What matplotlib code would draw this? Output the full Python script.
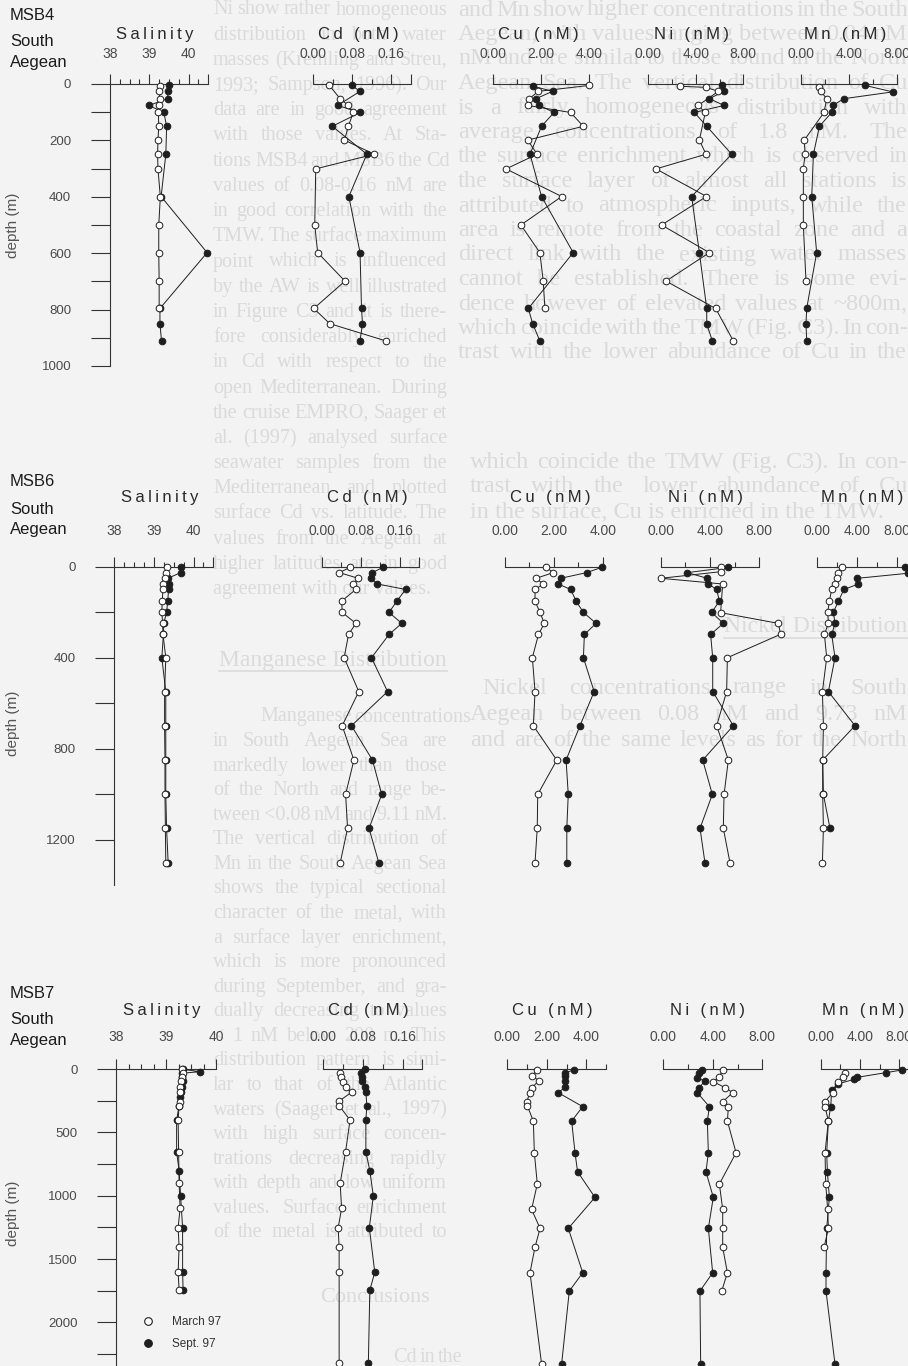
import matplotlib
matplotlib.use("Agg")
import numpy as np
import matplotlib.pyplot as plt
from matplotlib.lines import Line2D

plt.rcParams["font.family"] = ["Liberation Sans", "DejaVu Sans"]

W, H = 908, 1366
BG = "#f3f3f3"
PAGE = "#dadada"
INK = "#1e1e1e"
AX = "#333333"

# ---------------- data (depth in m) ----------------
# MSB4
msb4_sal_mar_z = [6, 26, 52, 76, 101, 150, 199, 249, 301, 400, 500, 598, 699, 796]
msb4_sal_mar = [39.27, 39.25, 39.27, 39.25, 39.23, 39.24, 39.22, 39.21, 39.22, 39.28, 39.24, 39.24, 39.25, 39.25]
msb4_sal_sep_z = [4, 26, 52, 76, 101, 150, 249, 399, 598, 796, 850, 911]
msb4_sal_sep = [39.50, 39.47, 39.47, 38.99, 39.37, 39.44, 39.42, 39.30, 40.47, 39.27, 39.27, 39.31]
msb4_cd_mar_z = [5, 52, 76, 101, 150, 199, 249, 301, 500, 598, 699, 796, 850, 911]
msb4_cd_mar = [0.033, 0.055, 0.072, 0.082, 0.072, 0.064, 0.125, 0.005, 0.003, 0.009, 0.065, 0.001, 0.034, 0.149]
msb4_cd_sep_z = [5, 26, 76, 101, 150, 249, 399, 598, 796, 850, 911]
msb4_cd_sep = [0.079, 0.096, 0.050, 0.096, 0.039, 0.110, 0.073, 0.096, 0.099, 0.101, 0.096]
msb4_cu_mar_z = [5, 26, 52, 76, 101, 150, 199, 249, 301, 399, 500, 598, 699, 796]
msb4_cu_mar = [4.00, 1.88, 1.50, 1.43, 3.22, 3.75, 1.43, 1.83, 0.53, 2.85, 1.15, 1.94, 2.08, 2.15]
msb4_cu_sep_z = [8, 26, 52, 76, 101, 150, 249, 399, 598, 796, 850, 911]
msb4_cu_sep = [1.67, 2.47, 1.78, 1.92, 2.53, 2.01, 1.53, 2.01, 3.33, 1.46, 1.64, 1.94]
msb4_ni_mar_z = [8, 12, 26, 76, 101, 199, 249, 301, 399, 500, 598, 699, 796, 911]
msb4_ni_mar = [2.67, 4.86, 5.90, 4.20, 4.80, 4.30, 4.86, 0.65, 4.90, 1.12, 5.14, 1.49, 5.67, 7.16]
msb4_ni_sep_z = [5, 26, 52, 76, 101, 150, 249, 399, 598, 796, 850, 911]
msb4_ni_sep = [6.18, 6.38, 5.14, 6.38, 3.88, 4.92, 7.02, 3.65, 4.30, 4.92, 4.92, 5.39]
msb4_mn_mar_z = [12, 26, 52, 101, 199, 249, 301, 399, 500, 699]
msb4_mn_mar = [1.56, 1.67, 2.17, 1.94, 0.30, 0.36, 0.22, 0.22, 0.22, 0.44]
msb4_mn_sep_z = [5, 28, 52, 76, 101, 150, 249, 399, 598, 796, 850, 911]
msb4_mn_sep = [5.36, 7.67, 3.61, 2.67, 2.58, 1.56, 1.06, 0.92, 1.33, 0.50, 0.44, 0.50]

# MSB6
msb6_z = [3, 26, 51, 76, 100, 151, 201, 249, 298, 400, 549, 699, 850, 1001, 1150, 1301]
msb6_sal_mar = [39.32, 39.30, 39.27, 39.24, 39.23, 39.21, 39.20, 39.22, 39.23, 39.30, 39.27, 39.27, 39.28, 39.28, 39.29, 39.30]
msb6_sal_sep = [39.68, 39.68, 39.35, 39.39, 39.37, 39.35, 39.32, 39.25, 39.24, 39.20, 39.30, 39.30, 39.30, 39.30, 39.32, 39.36]
msb6_cd_mar = [0.058, 0.036, 0.075, 0.065, 0.070, 0.041, 0.042, 0.070, 0.055, 0.046, 0.076, 0.042, 0.066, 0.049, 0.053, 0.038]
msb6_cd_sep = [0.125, 0.104, 0.100, 0.114, 0.172, 0.154, 0.138, 0.164, 0.138, 0.102, 0.135, 0.061, 0.104, 0.123, 0.097, 0.117]
msb6_cu_mar = [1.68, 1.98, 1.27, 1.57, 1.23, 1.23, 1.43, 1.61, 1.37, 1.12, 1.23, 1.16, 2.12, 1.34, 1.32, 1.23]
msb6_cu_sep = [3.96, 3.34, 2.28, 2.18, 2.69, 2.91, 3.21, 3.73, 3.25, 3.21, 3.65, 3.07, 2.50, 2.59, 2.53, 2.53]
msb6_ni_mar_z = [3, 22, 51, 76, 202, 249, 297, 400, 549, 699, 850, 1001, 1150, 1301]
msb6_ni_mar = [4.86, 4.86, 0.02, 5.03, 4.86, 9.54, 9.73, 5.41, 5.35, 4.54, 5.49, 5.14, 5.08, 5.62]
msb6_ni_sep = [5.49, 2.16, 3.78, 3.86, 4.54, 4.76, 4.14, 5.08, 4.05, 4.22, 4.22, 5.89, 3.41, 4.19, 3.19, 3.59]
msb6_mn_mar = [2.50, 2.10, 2.00, 1.83, 1.50, 1.27, 1.10, 1.17, 0.77, 1.00, 0.57, 0.67, 0.60, 0.60, 0.67, 0.57]
msb6_mn_sep_z = [3, 29, 51, 76, 100, 151, 201, 249, 298, 400, 549, 699, 850, 1001, 1150]
msb6_mn_sep = [8.83, 9.10, 4.07, 4.17, 2.73, 2.17, 1.67, 1.83, 1.50, 1.83, 1.17, 3.83, 0.60, 0.67, 1.33]

# MSB7
msb7_sal_mar_z = [3, 34, 66, 92, 139, 179, 258, 289, 403, 653, 903, 1100, 1253, 1403, 1605, 1745]
msb7_sal_mar = [39.31, 39.33, 39.31, 39.29, 39.28, 39.27, 39.28, 39.26, 39.24, 39.25, 39.26, 39.28, 39.24, 39.26, 39.24, 39.26]
msb7_sal_sep_z = [3, 21, 34, 66, 92, 139, 179, 218, 289, 403, 653, 803, 1003, 1253, 1605, 1745]
msb7_sal_sep = [39.34, 39.68, 39.31, 39.31, 39.33, 39.31, 39.29, 39.28, 39.26, 39.21, 39.21, 39.26, 39.29, 39.33, 39.33, 39.34]
msb7_cd_mar_z = [34, 66, 100, 145, 184, 253, 289, 403, 653, 903, 1100, 1253, 1403, 1605, 2324]
msb7_cd_mar = [0.034, 0.035, 0.040, 0.045, 0.057, 0.032, 0.032, 0.054, 0.045, 0.034, 0.037, 0.030, 0.032, 0.032, 0.032]
msb7_cd_sep_z = [3, 34, 66, 92, 145, 184, 289, 403, 653, 803, 1003, 1253, 1605, 1745, 2324]
msb7_cd_sep = [0.084, 0.077, 0.079, 0.079, 0.084, 0.086, 0.088, 0.086, 0.086, 0.094, 0.101, 0.093, 0.104, 0.094, 0.091]
msb7_cu_mar_z = [8, 55, 92, 147, 187, 258, 289, 411, 661, 908, 1108, 1258, 1408, 1608, 2332]
msb7_cu_mar = [1.52, 1.23, 1.62, 1.23, 1.15, 0.98, 1.01, 1.32, 1.37, 1.52, 1.23, 1.66, 1.40, 1.15, 1.74]
msb7_cu_sep_z = [8, 29, 55, 92, 145, 187, 297, 411, 661, 811, 1013, 1258, 1608, 1753, 2332]
msb7_cu_sep = [3.38, 2.92, 2.92, 2.92, 2.92, 2.58, 3.82, 3.26, 3.43, 3.56, 4.44, 3.09, 3.82, 3.14, 2.75]
msb7_ni_mar_z = [8, 61, 100, 147, 187, 258, 297, 411, 661, 908, 1108, 1258, 1408, 1608, 1753]
msb7_ni_mar = [4.80, 4.53, 4.04, 4.99, 5.61, 4.80, 5.26, 5.18, 5.88, 4.53, 4.80, 4.80, 4.80, 5.18, 4.72]
msb7_ni_sep_z = [8, 34, 74, 92, 147, 187, 297, 411, 661, 811, 1013, 1258, 1608, 1753, 2332]
msb7_ni_sep = [3.10, 2.91, 2.70, 3.37, 2.91, 2.75, 3.72, 3.56, 3.64, 3.45, 4.04, 3.64, 3.99, 2.96, 3.02]
msb7_mn_mar_z = [29, 66, 100, 187, 258, 297, 411, 661, 908, 1108, 1258, 1408]
msb7_mn_mar = [2.47, 2.24, 1.80, 1.22, 0.44, 0.44, 0.78, 0.44, 0.51, 0.71, 0.78, 0.34]
msb7_mn_sep_z = [8, 29, 66, 82, 118, 166, 297, 411, 661, 811, 1013, 1258, 1608, 1753, 2332]
msb7_mn_sep = [8.24, 6.64, 3.66, 3.39, 1.73, 1.12, 1.02, 0.78, 0.61, 0.68, 0.88, 0.61, 0.54, 0.54, 1.46]

stations = ["MSB4", "MSB6", "MSB7"]
titles = ["Salinity", "Cd (nM)", "Cu (nM)", "Ni (nM)", "Mn (nM)"]
seasons = ["March 97", "Sept. 97"]

# background page text (scanned report behind the plots)
left_col = [
    "Ni show rather homogeneous", "distribution in both water", "masses (Kremling and Streu,",
    "1993; Sampson, 1996). Our", "data are in good agreement", "with those values. At Sta-",
    "tions MSB4 and MSB6 the Cd", "values of 0.08-0.16 nM are", "in good correlation with the",
    "TMW. The surface maximum", "point which is influenced", "by the AW is well illustrated",
    "in Figure C3 and it is there-", "fore considerably enriched", "in Cd with respect to the",
    "open Mediterranean. During", "the cruise EMPRO, Saager et", "al. (1997) analysed surface",
    "seawater samples from the", "Mediterranean and plotted", "surface Cd vs. latitude. The",
    "values from the Aegean at", "higher latitudes are in good", "agreement with our values.",
]
left_col2 = [
    "Manganese concentrations", "in South Aegean Sea are", "markedly lower than those",
    "of the North and range be-", "tween <0.08 nM and 9.11 nM.", "The vertical distribution of",
    "Mn in the South Aegean Sea", "shows the typical sectional", "character of the metal, with",
    "a surface layer enrichment,", "which is more pronounced", "during September, and gra-",
    "dually decreasing to values", "< 1 nM below 200 m. This", "distribution pattern is simi-",
    "lar to that of the Atlantic", "waters (Saager et al., 1997)", "with high surface concen-",
    "trations decreasing rapidly", "with depth and low uniform", "values. Surface enrichment",
    "of the metal is attributed to",
]
right_col = [
    "and Mn show higher concentrations in the South", "Aegean, with values ranging between 0.04 nM",
    "nM and are similar to those found in the North", "Aegean Sea. The vertical distribution of Cu",
    "is a fairly homogeneous distribution with", "average concentrations of 1.8 nM. The",
    "the surface enrichment which is observed in", "the surface layer of almost all stations is",
    "attributed to atmospheric inputs, while the", "area is remote from the coastal zone and a",
    "direct link with the existing water masses", "cannot be established. There is some evi-",
    "dence however of elevated values at ~800m,", "which coincide with the TMW (Fig. C3). In con-",
    "trast with the lower abundance of Cu in the",
]
right_col2 = [
    "which coincide the TMW (Fig. C3). In con-", "trast with the lower abundance of Cu",
    "in the surface, Cu is enriched in the TMW.",
]
right_col3 = [
    "Nickel concentrations range in South", "Aegean between 0.08 nM and 9.73 nM",
    "and are of the same levels as for the North",
]

# ---------------- figure ----------------
fig = plt.figure(figsize=(W / 100, H / 100), dpi=100)
fig.patch.set_facecolor(BG)
renderer = fig.canvas.get_renderer()


def fx(x):
    return x / W


def fy(y):
    return 1 - y / H


def page_line(x0, x1, y, s, size, justify=True):
    kw = dict(family="Liberation Serif", fontsize=size, color=PAGE, zorder=-5, va="center", ha="left")
    words = s.split()
    if not justify or len(words) < 2:
        fig.text(fx(x0), fy(y), s, **kw)
        return
    arts = [fig.text(0, 0, w, **kw) for w in words]
    widths = [a.get_window_extent(renderer).width for a in arts]
    gap = max((x1 - x0 - sum(widths)) / (len(words) - 1), 3)
    x = x0
    for a, w in zip(arts, widths):
        a.set_position((fx(x), fy(y)))
        x += w + gap


def heading(x_right, y, s):
    t = fig.text(fx(x_right), fy(y), s, family="Liberation Serif", fontsize=17,
                 color=PAGE, zorder=-5, va="center", ha="right")
    w = t.get_window_extent(renderer).width
    fig.add_artist(Line2D([fx(x_right - w), fx(x_right)], [fy(y + 11)] * 2,
                          color=PAGE, lw=1.2, zorder=-5))


for k, s in enumerate(left_col):
    page_line(213, 447, 10 + 25.2 * k, s, 14.5, justify=k < len(left_col) - 1)
heading(447, 660, "Manganese Distribution")
for k, s in enumerate(left_col2):
    page_line(260 if k == 0 else 213, 447, 717 + 24.57 * k, s, 14.5)
fig.text(fx(320), fy(1297), "Conclusions", family="Liberation Serif", fontsize=16,
         color=PAGE, zorder=-5, va="center")
page_line(393, 447, 1357, "Cd in the", 14.5)

for k, s in enumerate(right_col):
    page_line(458, 907, 10 + 24.5 * k, s, 17.5)
for k, s in enumerate(right_col2):
    page_line(470, 907, 462 + 25 * k, s, 17.5, justify=k < 2)
heading(907, 627, "Nickel Distribution")
for k, s in enumerate(right_col3):
    page_line(482 if k == 0 else 470, 907, 688 + 26 * k, s, 17.5)

# ---------------- layout of the three station rows ----------------
rows = [
    dict(y0=84.0, ppm=0.282, dmax=1000, pad=9.4, title_y=35,
         name_y=[15, 41, 63], dlabel_y=225,
         dmaj=[0, 200, 400, 600, 800, 1000], dmin=[100, 300, 500, 700, 900],
         xs=[(110, 208.3), (313.3, 410.7), (493.3, 589.3), (648.3, 743.3), (800.7, 896.7)],
         tx=[155, 358, 538, 692, 845]),
    dict(y0=566.7, ppm=0.2275, dmax=1400, pad=13.7, title_y=498,
         name_y=[482, 509, 530], dlabel_y=723,
         dmaj=[0, 400, 800, 1200], dmin=[200, 600, 1000],
         xs=[(114.3, 213.3), (321.7, 419.3), (505, 602.7), (660.7, 759.3), (816.7, 976.7)],
         tx=[160, 367, 550, 705, 862]),
    dict(y0=1069.0, ppm=0.1267, dmax=2400, pad=10.8, title_y=1010,
         name_y=[994, 1019, 1041], dlabel_y=1213,
         dmaj=[0, 500, 1000, 1500, 2000], dmin=[250, 750, 1250, 1750, 2250],
         xs=[(116.3, 216), (323.3, 422.3), (507.3, 606), (663.3, 762.3), (820.7, 978)],
         tx=[162, 368, 552, 708, 863]),
]

# x axis settings per row and panel: (lo, hi, major, labels, minor)
sal_a = (38, 40.5, [38, 39, 40, 40.5], ["38", "39", "40", ""], [38.25, 38.5, 38.75, 39.25, 39.5, 39.75, 40.25])
sal_b = (38, 40, [38, 39, 40], ["38", "39", "40"], [38.25, 38.5, 38.75, 39.25, 39.5, 39.75])
cd_x = (0, 0.2, [0, 0.08, 0.16, 0.2], ["0.00", "0.08", "0.16", ""], [0.04, 0.12])
cu_a = (0, 4, [0, 2, 4], ["0.00", "2.00", "4.00"], [1, 3])
cu_b = (0, 5, [0, 2, 4], ["0.00", "2.00", "4.00"], [1, 3, 5])
ni_x = (0, 8, [0, 4, 8], ["0.00", "4.00", "8.00"], [2, 6])
mn_a = (0, 8, [0, 4, 8], ["0.00", "4.00", "8.00"], [2, 6])
mn_b = (0, 16, [0, 4, 8, 12, 16], ["0.00", "4.00", "8.00", "", ""], [2, 6, 10, 14])
xaxes = [[sal_a, cd_x, cu_a, ni_x, mn_a],
         [sal_a, cd_x, cu_a, ni_x, mn_b],
         [sal_b, cd_x, cu_b, ni_x, mn_b]]

series = [
    [((msb4_sal_mar_z, msb4_sal_mar), (msb4_sal_sep_z, msb4_sal_sep)),
     ((msb4_cd_mar_z, msb4_cd_mar), (msb4_cd_sep_z, msb4_cd_sep)),
     ((msb4_cu_mar_z, msb4_cu_mar), (msb4_cu_sep_z, msb4_cu_sep)),
     ((msb4_ni_mar_z, msb4_ni_mar), (msb4_ni_sep_z, msb4_ni_sep)),
     ((msb4_mn_mar_z, msb4_mn_mar), (msb4_mn_sep_z, msb4_mn_sep))],
    [((msb6_z, msb6_sal_mar), (msb6_z, msb6_sal_sep)),
     ((msb6_z, msb6_cd_mar), (msb6_z, msb6_cd_sep)),
     ((msb6_z, msb6_cu_mar), (msb6_z, msb6_cu_sep)),
     ((msb6_ni_mar_z, msb6_ni_mar), (msb6_z, msb6_ni_sep)),
     ((msb6_z, msb6_mn_mar), (msb6_mn_sep_z, msb6_mn_sep))],
    [((msb7_sal_mar_z, msb7_sal_mar), (msb7_sal_sep_z, msb7_sal_sep)),
     ((msb7_cd_mar_z, msb7_cd_mar), (msb7_cd_sep_z, msb7_cd_sep)),
     ((msb7_cu_mar_z, msb7_cu_mar), (msb7_cu_sep_z, msb7_cu_sep)),
     ((msb7_ni_mar_z, msb7_ni_mar), (msb7_ni_sep_z, msb7_ni_sep)),
     ((msb7_mn_mar_z, msb7_mn_mar), (msb7_mn_sep_z, msb7_mn_sep))],
]


def spaced(s):
    return "\u2009".join(s)


for r, row in enumerate(rows):
    bottom = row["y0"] + row["dmax"] * row["ppm"]
    for p, (x0, x1) in enumerate(row["xs"]):
        lo, hi, major, labels, minor = xaxes[r][p]
        ax = fig.add_axes([fx(x0), fy(bottom), (x1 - x0) / W, (bottom - row["y0"]) / H])
        ax.set_xlim(lo, hi)
        ax.set_ylim(row["dmax"], 0)
        ax.patch.set_visible(False)
        for s in ("right", "bottom"):
            ax.spines[s].set_visible(False)
        ax.spines["top"].set_color(AX)
        ax.spines["top"].set_linewidth(0.8)
        ax.xaxis.tick_top()
        ax.set_xticks(major)
        ax.set_xticklabels(labels)
        ax.set_xticks(minor, minor=True)
        ax.tick_params(axis="x", which="major", direction="out", length=7.2, width=0.8,
                       color=AX, labelsize=10, labelcolor="#4a4a4a", pad=row["pad"])
        ax.tick_params(axis="x", which="minor", direction="out", length=3.6, width=0.8, color=AX)
        if p == 0:
            ax.spines["left"].set_color(AX)
            ax.spines["left"].set_linewidth(0.8)
            ax.set_yticks(row["dmaj"])
            ax.set_yticks(row["dmin"], minor=True)
            ax.tick_params(axis="y", which="both", direction="out", length=14, width=0.8,
                           color=AX, labelsize=9.5, labelcolor="#4a4a4a", pad=14)
        else:
            ax.spines["left"].set_visible(False)
            ax.set_yticks([])

        (zm, vm), (zs, vs) = series[r][p]
        ax.plot(vs, zs, color=INK, lw=0.7, marker="o", ms=4.8, mew=0.7,
                mec=INK, mfc=INK, clip_on=False, zorder=3)
        ax.plot(vm, zm, color=INK, lw=0.7, marker="o", ms=4.8, mew=0.7,
                mec=INK, mfc="white", clip_on=False, zorder=4)

        fig.text(fx(row["tx"][p]), fy(row["title_y"]), spaced(titles[p]),
                 ha="center", va="center", fontsize=12, color="#2a2a2a")

        if p == 0 and r == 2:
            handles = [Line2D([], [], ls="none", marker="o", ms=5.5, mew=0.8, mec=INK, mfc="white"),
                       Line2D([], [], ls="none", marker="o", ms=5.5, mew=0.8, mec=INK, mfc=INK)]
            leg = ax.legend(handles, seasons, loc="upper left", frameon=False,
                            bbox_to_anchor=(fx(141), fy(1316)), bbox_transform=fig.transFigure,
                            fontsize=8.5, handlelength=1.2, handletextpad=1.4,
                            labelspacing=0.85, borderpad=0, borderaxespad=0)
            for t in leg.get_texts():
                t.set_color("#333333")

    for k, s in enumerate([stations[r], "South", "Aegean"]):
        fig.text(fx(10), fy(row["name_y"][k]), s, ha="left", va="center",
                 fontsize=12, color="#1c1c1c")
    fig.text(fx(13), fy(row["dlabel_y"]), "depth (m)", rotation=90, ha="center",
             va="center", fontsize=11, color="#555555")

fig.savefig("out.png", dpi=100, facecolor=BG)
